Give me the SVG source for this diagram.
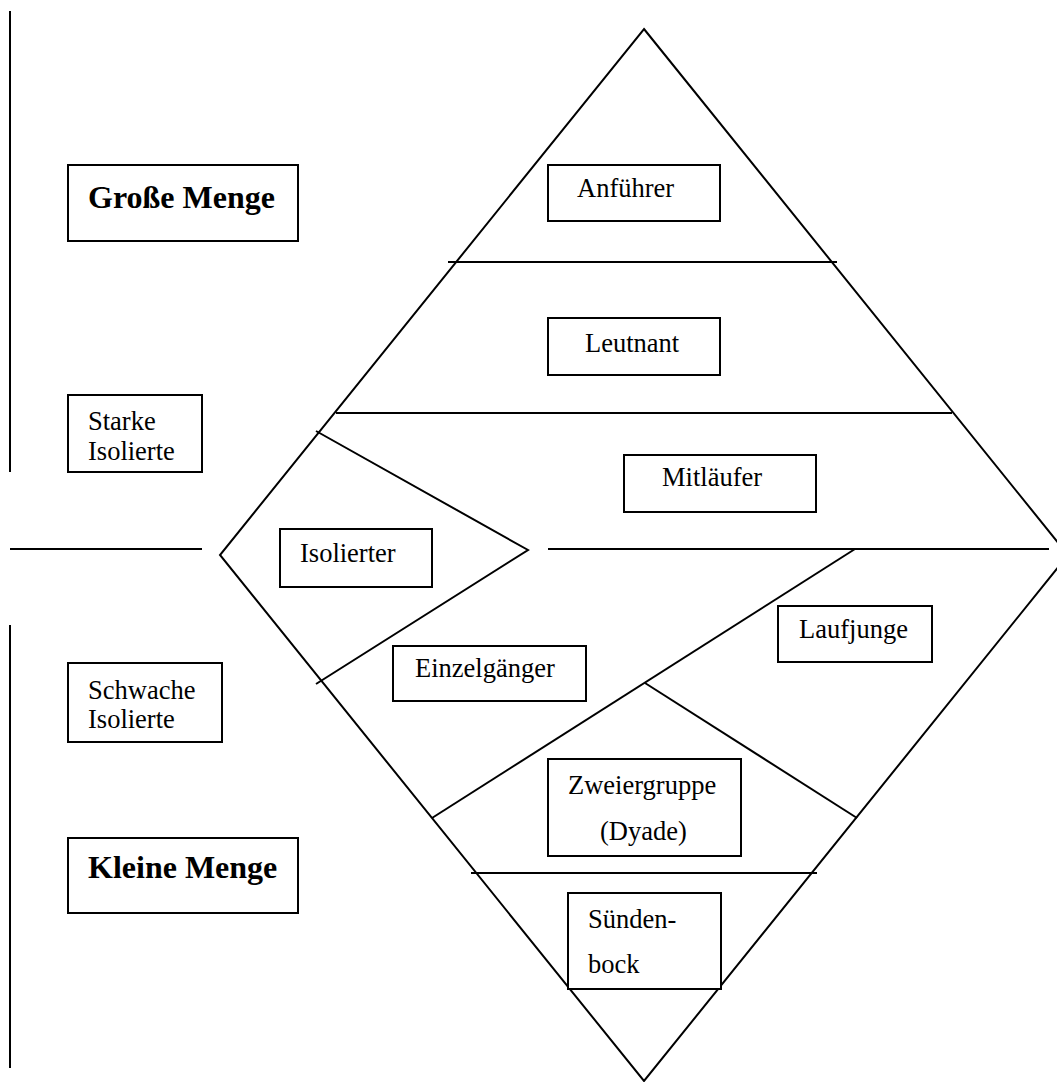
<svg xmlns="http://www.w3.org/2000/svg" width="1057" height="1082" viewBox="0 0 1057 1082">
<style>
.box{fill:#fff;stroke:#000;stroke-width:2}
.ln{fill:none;stroke:#000;stroke-width:2}
text{font-family:'Liberation Serif','Times New Roman','DejaVu Serif',serif;fill:#000}
.t{font-size:26.5px}
.b{font-size:32px;font-weight:bold}
</style>
<rect width="1057" height="1082" fill="#fff"/>
<g id="connectors">
  <polygon class="ln" points="644,29 1068,555 644,1081 220,555"/>
  <line class="ln" x1="448" y1="262" x2="837" y2="262"/>
  <line class="ln" x1="336" y1="413" x2="952" y2="413"/>
  <line class="ln" x1="548" y1="549" x2="1049" y2="549"/>
  <line class="ln" x1="10" y1="549" x2="202" y2="549"/>
  <line class="ln" x1="471" y1="873" x2="817" y2="873"/>
  <polyline class="ln" points="316,431 528,550 316,684"/>
  <line class="ln" x1="855" y1="549" x2="432" y2="818"/>
  <line class="ln" x1="645" y1="683" x2="857" y2="818"/>
  <line class="ln" x1="10" y1="11" x2="10" y2="472"/>
  <line class="ln" x1="10" y1="625" x2="10" y2="1068"/>
</g>
<g id="grosse-menge">
  <rect class="box" x="68" y="165" width="230" height="76"/>
  <text class="b" x="88" y="208" font-family="Liberation Serif, serif">Große Menge</text>
</g>
<g id="starke-isolierte">
  <rect class="box" x="68" y="395" width="134" height="77"/>
  <text class="t" x="88" y="430">Starke</text>
  <text class="t" x="88" y="460">Isolierte</text>
</g>
<g id="schwache-isolierte">
  <rect class="box" x="68" y="663" width="154" height="79"/>
  <text class="t" x="88" y="699">Schwache</text>
  <text class="t" x="88" y="728">Isolierte</text>
</g>
<g id="kleine-menge">
  <rect class="box" x="68" y="838" width="230" height="75"/>
  <text class="b" x="88" y="878">Kleine Menge</text>
</g>
<g id="anfuehrer">
  <rect class="box" x="548" y="165" width="172" height="56"/>
  <text class="t" x="577" y="197">Anführer</text>
</g>
<g id="leutnant">
  <rect class="box" x="548" y="318" width="172" height="57"/>
  <text class="t" x="585" y="352">Leutnant</text>
</g>
<g id="mitlaeufer">
  <rect class="box" x="624" y="455" width="192" height="57"/>
  <text class="t" x="662" y="486">Mitläufer</text>
</g>
<g id="isolierter">
  <rect class="box" x="280" y="529" width="152" height="58"/>
  <text class="t" x="300" y="562">Isolierter</text>
</g>
<g id="einzelgaenger">
  <rect class="box" x="393" y="646" width="193" height="55"/>
  <text class="t" x="415" y="677">Einzelgänger</text>
</g>
<g id="laufjunge">
  <rect class="box" x="778" y="606" width="154" height="56"/>
  <text class="t" x="799" y="638">Laufjunge</text>
</g>
<g id="zweiergruppe">
  <rect class="box" x="548" y="759" width="193" height="97"/>
  <text class="t" x="568" y="794">Zweiergruppe</text>
  <text class="t" x="600" y="840">(Dyade)</text>
</g>
<g id="suendenbock">
  <rect class="box" x="568" y="893" width="153" height="96"/>
  <text class="t" x="588" y="928">Sünden-</text>
  <text class="t" x="588" y="973">bock</text>
</g>
</svg>
